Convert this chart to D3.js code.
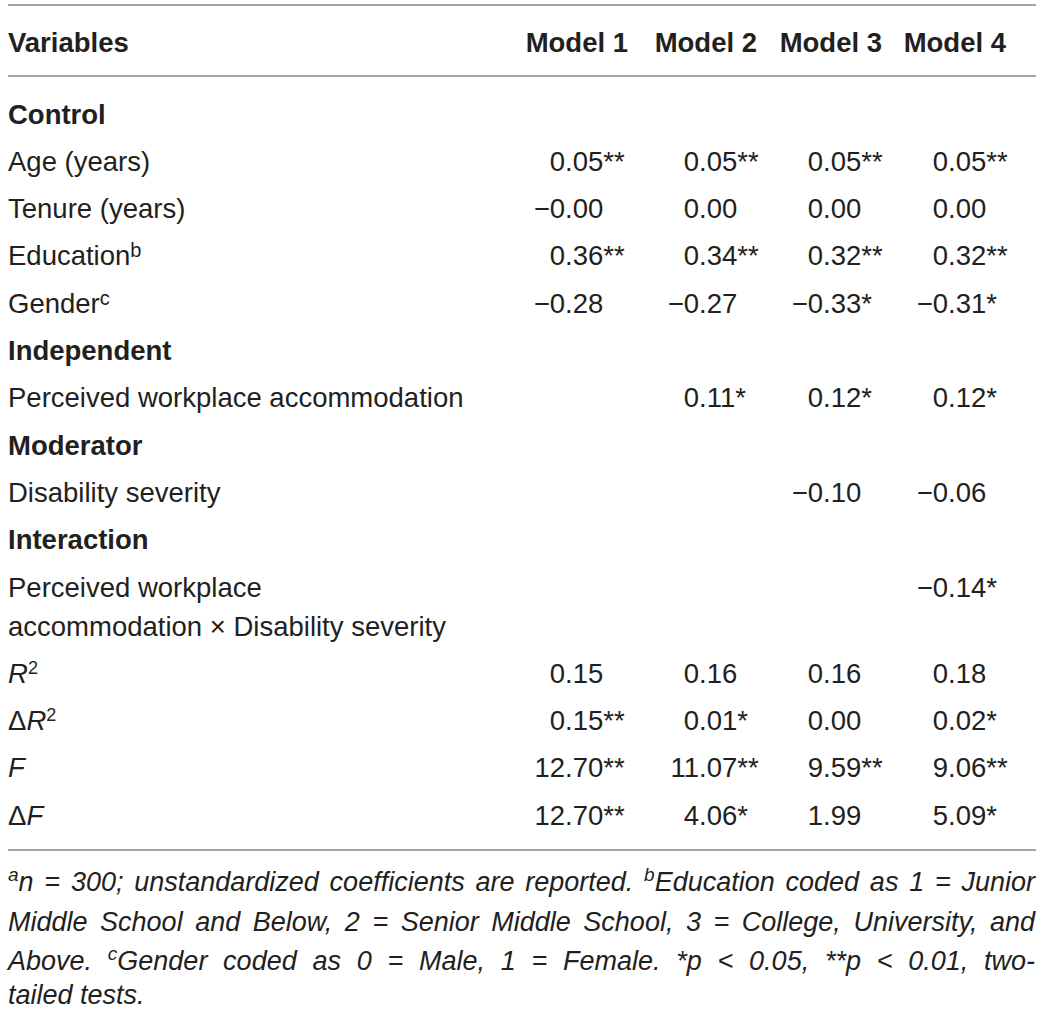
<!DOCTYPE html>
<html><head><meta charset="utf-8">
<script src="https://cdn.jsdelivr.net/npm/d3@7"></script>
<style>
html,body{margin:0;padding:0;background:#fff;}
svg{display:block;font-family:"Liberation Sans",Arial,Helvetica,sans-serif;}
</style></head><body>
<svg id="chart" width="1043" height="1011"></svg>
<script>
// ---------- data ----------
const headerLabel = "Variables";
const models = ["Model 1", "Model 2", "Model 3", "Model 4"];
const rowLabels = [
  "Control", "Age (years)", "Tenure (years)", "Education", "Gender",
  "Independent", "Perceived workplace accommodation",
  "Moderator", "Disability severity",
  "Interaction", "Perceived workplace|accommodation × Disability severity",
  "R2", "ΔR2", "F", "ΔF"
];
const sectionRows = ["Control", "Independent", "Moderator", "Interaction"];
const labelNotes = { "Education": "b", "Gender": "c" };
const model1 = ["", "0.05**", "−0.00", "0.36**", "−0.28", "", "", "", "", "", "", "0.15", "0.15**", "12.70**", "12.70**"];
const model2 = ["", "0.05**", "0.00", "0.34**", "−0.27", "", "0.11*", "", "", "", "", "0.16", "0.01*", "11.07**", "4.06*"];
const model3 = ["", "0.05**", "0.00", "0.32**", "−0.33*", "", "0.12*", "", "−0.10", "", "", "0.16", "0.00", "9.59**", "1.99"];
const model4 = ["", "0.05**", "0.00", "0.32**", "−0.31*", "", "0.12*", "", "−0.06", "", "−0.14*", "0.18", "0.02*", "9.06**", "5.09*"];
const modelValues = [model1, model2, model3, model4];
const footnoteLines = [
  [{t:"a",sup:true},{t:"n = 300; unstandardized coefficients are reported. "},{t:"b",sup:true},{t:"Education coded as 1 = Junior"}],
  [{t:"Middle School and Below, 2 = Senior Middle School, 3 = College, University, and"}],
  [{t:"Above. "},{t:"c",sup:true},{t:"Gender coded as 0 = Male, 1 = Female. *p < 0.05, **p < 0.01, two-"}],
  [{t:"tailed tests."}]
];

// ---------- layout ----------
const left = 8, right = 1036;
const fs = 27.5;
const textCol = "#231f20";
const ruleCol = "#a3a3a3";
const svg = d3.select("#chart");

// column scales
const decimalX = d3.scaleOrdinal().domain(models).range([565, 699, 823, 948]);
const headerRightX = d3.scaleOrdinal().domain(models).range([628, 757, 882, 1006]);
// row scale
const rowStep = 47.3, extraLine = 39;
const yBase = d3.scaleLinear().domain([0, 1]).range([123.5, 123.5 + rowStep]);
const y = i => yBase(i) + (i > 10 ? extraLine : 0);

// rules
[5, 76, 850].forEach(ry => {
  svg.append("line").attr("x1", left).attr("x2", right).attr("y1", ry).attr("y2", ry)
    .attr("stroke", ruleCol).attr("stroke-width", 2);
});

// helper: append parts with superscripts
function appendParts(text, parts, supSize, rise) {
  let raised = false;
  parts.forEach(p => {
    const ts = text.append("tspan").text(p.t);
    if (p.it) ts.attr("font-style", "italic");
    const sz = p.supSize || supSize, r = p.rise || rise;
    if (p.sup) {
      ts.attr("font-size", sz);
      if (!raised) { ts.attr("dy", -r); raised = r; }
    } else if (raised) {
      ts.attr("dy", raised); raised = false;
    }
  });
}

// header
svg.append("text").attr("x", left).attr("y", 52).attr("font-size", fs).attr("font-weight", "bold")
  .attr("fill", textCol).text(headerLabel);
svg.selectAll("text.hdr").data(models).join("text").attr("class", "hdr")
  .attr("x", d => headerRightX(d)).attr("y", 52).attr("text-anchor", "end")
  .attr("font-size", fs).attr("font-weight", "bold").attr("fill", textCol).text(d => d);

// row labels
function labelParts(lbl) {
  if (lbl === "R2") return [{t:"R",it:true},{t:"2",sup:true,supSize:18,rise:9}];
  if (lbl === "ΔR2") return [{t:"Δ"},{t:"R",it:true},{t:"2",sup:true,supSize:18,rise:9}];
  if (lbl === "F") return [{t:"F",it:true}];
  if (lbl === "ΔF") return [{t:"Δ"},{t:"F",it:true}];
  if (labelNotes[lbl]) return [{t:lbl},{t:labelNotes[lbl],sup:true}];
  return [{t:lbl}];
}
rowLabels.forEach((lbl, i) => {
  const isSection = sectionRows.includes(lbl);
  const lines = lbl.split("|");
  lines.forEach((ln, k) => {
    const t = svg.append("text").attr("x", left).attr("y", y(i) + k * extraLine)
      .attr("font-size", fs).attr("fill", textCol)
      .attr("font-weight", isSection ? "bold" : "normal");
    appendParts(t, labelParts(ln), 20, 8);
  });
});

// values (decimal aligned)
models.forEach((m, mi) => {
  const vals = modelValues[mi];
  vals.forEach((v, i) => {
    if (!v) return;
    const mt = v.match(/^(−?\d+)(\.\d+)(\**)$/);
    const dx = decimalX(m);
    svg.append("text").attr("x", dx).attr("y", y(i)).attr("text-anchor", "end")
      .attr("font-size", fs).attr("fill", textCol).text(mt[1]);
    svg.append("text").attr("x", dx).attr("y", y(i)).attr("text-anchor", "start")
      .attr("font-size", fs).attr("fill", textCol).text(mt[2] + mt[3]);
  });
});

// footnotes
const footY = [891, 930.5, 969.5, 1004];
const footW = 1027;
footnoteLines.forEach((parts, li) => {
  const t = svg.append("text").attr("x", left).attr("y", footY[li])
    .attr("font-size", 27).attr("font-style", "italic").attr("fill", textCol);
  appendParts(t, parts, 19, 10);
  if (li < footnoteLines.length - 1) {
    const natural = t.node().getComputedTextLength();
    const spaces = parts.map(p => p.t).join("").split(" ").length - 1;
    if (spaces > 0) t.attr("word-spacing", (footW - natural) / spaces);
  }
});
</script>
</body></html>
